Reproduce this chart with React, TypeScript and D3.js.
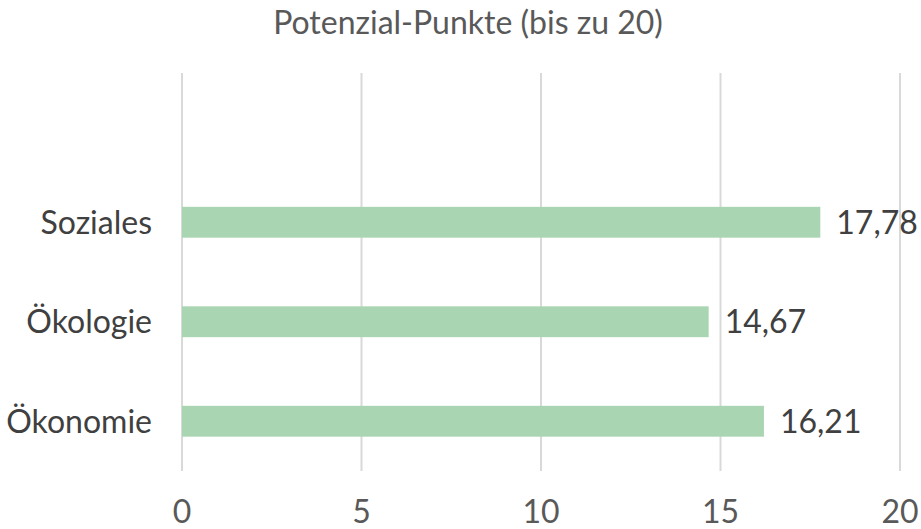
import React from 'react';
import * as d3 from 'd3';

const categories = ['Soziales', 'Ökologie', 'Ökonomie'];
const values = [17.78, 14.67, 16.21];
const ticks = [0, 5, 10, 15, 20];
const title = 'Potenzial-Punkte (bis zu 20)';

const W = 921;
const H = 529;
const FONT = 'Lato, "Open Sans", sans-serif';

export default function App() {
  const x = d3.scaleLinear().domain([0, 20]).range([182, 900]);
  // four slots on the axis, the top one is left empty
  const y = d3
    .scaleBand<string>()
    .domain(['', ...categories])
    .range([73, 471])
    .paddingInner(0.69)
    .paddingOuter(0.345);
  const fmt = (v: number) => v.toFixed(2).replace('.', ',');

  return (
    <svg
      width={W}
      height={H}
      style={{ position: 'absolute', left: 0, top: 0, background: '#fff' }}
      fontFamily={FONT}
    >
      <text x={468} y={34} textAnchor="middle" fontSize={32} fill="#595959">
        {title}
      </text>

      {ticks.map((t) => (
        <g key={t}>
          <line x1={x(t)} x2={x(t)} y1={73} y2={471} stroke="#d9d9d9" strokeWidth={2} />
          <text x={x(t)} y={523} textAnchor="middle" fontSize={32} fill="#595959">
            {t}
          </text>
        </g>
      ))}

      {categories.map((c, i) => {
        const yy = y(c)!;
        const bh = y.bandwidth();
        return (
          <g key={c}>
            <rect x={x(0)} y={yy} width={x(values[i]) - x(0)} height={bh} fill="#a9d5b2" />
            <text x={152} y={yy + bh / 2} dy="0.36em" textAnchor="end" fontSize={32} fill="#404040">
              {c}
            </text>
            <text x={x(values[i]) + 16} y={yy + bh / 2} dy="0.36em" fontSize={32} fill="#404040">
              {fmt(values[i])}
            </text>
          </g>
        );
      })}
    </svg>
  );
}
